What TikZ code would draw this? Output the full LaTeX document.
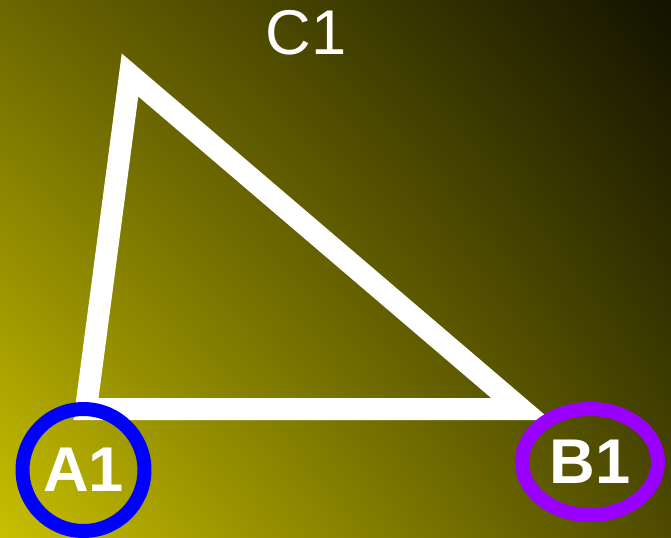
\documentclass[tikz,border=0pt]{standalone}
\usepackage{fontspec}
\setmainfont{Liberation Sans}
\usepackage{tikz}
\usetikzlibrary{shapes.geometric,shadings}
\definecolor{bgll}{RGB}{200,192,0}
\definecolor{bgul}{RGB}{108,103,0}
\definecolor{bglr}{RGB}{78,74,0}
\definecolor{bgur}{RGB}{18,18,0}
\definecolor{ringa}{HTML}{0000FF}
\definecolor{ringb}{HTML}{9900FF}

\begin{document}
\begin{tikzpicture}[x=0.02cm, y=-0.02cm,
  edge/.style={draw=white, line width=0.44cm, line join=miter},
  lbl/.style={text=white, font=\fontsize{36}{36}\selectfont\bfseries, inner sep=0pt},
  ring/.style={line width=0.28cm}]
\useasboundingbox (0,0) rectangle (671,537);
\shade[lower left=bgll, upper left=bgul, lower right=bglr, upper right=bgur] (0,0) rectangle (671,537);
% triangle corners
\coordinate (A) at (86,409);
\coordinate (B) at (521,409);
\coordinate (C) at (130,75);
\draw[edge] (A) -- (B) -- (C) -- cycle;
% labels
\node[lbl, draw=ringa, ring, circle, minimum size=2.44cm] (a1) at (83.5,470) {A1};
\node[lbl, draw=ringb, ring, ellipse, minimum width=2.72cm, minimum height=2.12cm] (b1) at (590,462) {B1};
\node[lbl, font=\fontsize{36}{36}\selectfont] (c1) at (306,33) {C1};
\end{tikzpicture}
\end{document}
